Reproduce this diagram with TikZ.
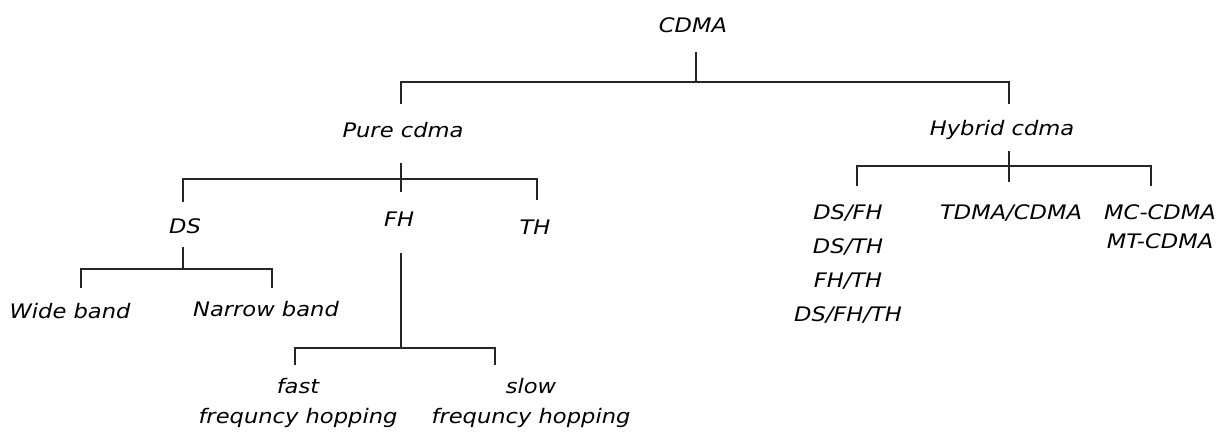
\documentclass[tikz,border=0pt]{standalone}
\usepackage{fontspec}
\setmainfont{DejaVu Sans}[FakeStretch=1.13]
\usepackage{tikz}

\begin{document}
\begin{tikzpicture}[x=1pt,y=-1pt,
        lbl/.style = {inner sep=0pt, font=\fontsize{20}{30}\selectfont\itshape, align=center},
        tree/.style = {line width=1.5pt, black!85}]
                \useasboundingbox (0,0) rectangle (1222,435);
                % labels
                \node[lbl] (cdma) at (693,25) {CDMA};
                \node[lbl] (pure) at (403,130) {Pure cdma};
                \node[lbl] (hyb) at (1002,130) {Hybrid cdma};
                \node[lbl] (ds) at (185,226) {DS};
                \node[lbl] (fh) at (399,219) {FH};
                \node[lbl] (th) at (535,227) {TH};
                \node[lbl] (wide) at (70,311) {Wide band};
                \node[lbl] (narrow) at (266,309) {Narrow band};
                \node[lbl] (fast) at (298,403) {fast\\frequncy hopping};
                \node[lbl] (slow) at (531,403) {slow\\frequncy hopping};
                \node[lbl, font=\fontsize{20}{34}\selectfont\itshape] (mix) at (848,264) {DS/FH\\DS/TH\\FH/TH\\DS/FH/TH};
                \node[lbl] (tdma) at (1011,213) {TDMA/CDMA};
                \node[lbl, font=\fontsize{20}{29}\selectfont\itshape] (mc) at (1160,227) {MC-CDMA\\MT-CDMA};
                % stems, bars and drops
                \coordinate (c0) at (696,52);
                \coordinate (c1) at (696,82);
                \coordinate (pt) at (401,104);
                \coordinate (ht) at (1009,104);
                \coordinate (p0) at (401,163);
                \coordinate (p1) at (401,192);
                \coordinate (pb) at (401,179);
                \coordinate (ds0) at (183,202);
                \coordinate (th0) at (537,200);
                \coordinate (d0) at (183,247);
                \coordinate (db) at (183,269);
                \coordinate (wb0) at (81,288);
                \coordinate (nb0) at (272,288);
                \coordinate (f0) at (401,253);
                \coordinate (fb) at (401,348);
                \coordinate (fa0) at (295,365);
                \coordinate (sl0) at (495,365);
                \coordinate (h0) at (1009,151);
                \coordinate (h1) at (1009,182);
                \coordinate (hb) at (1009,166);
                \coordinate (hd0) at (857,186);
                \coordinate (hm0) at (1151,186);
                \draw[tree] (c0) -- (c1);
                \draw[tree] (pt) |- (c1) -| (ht);
                \draw[tree] (p0) -- (p1);
                \draw[tree] (ds0) |- (pb) -| (th0);
                \draw[tree] (d0) -- (db);
                \draw[tree] (wb0) |- (db) -| (nb0);
                \draw[tree] (f0) -- (fb);
                \draw[tree] (fa0) |- (fb) -| (sl0);
                \draw[tree] (h0) -- (h1);
                \draw[tree] (hd0) |- (hb) -| (hm0);
            \end{tikzpicture}
\end{document}
